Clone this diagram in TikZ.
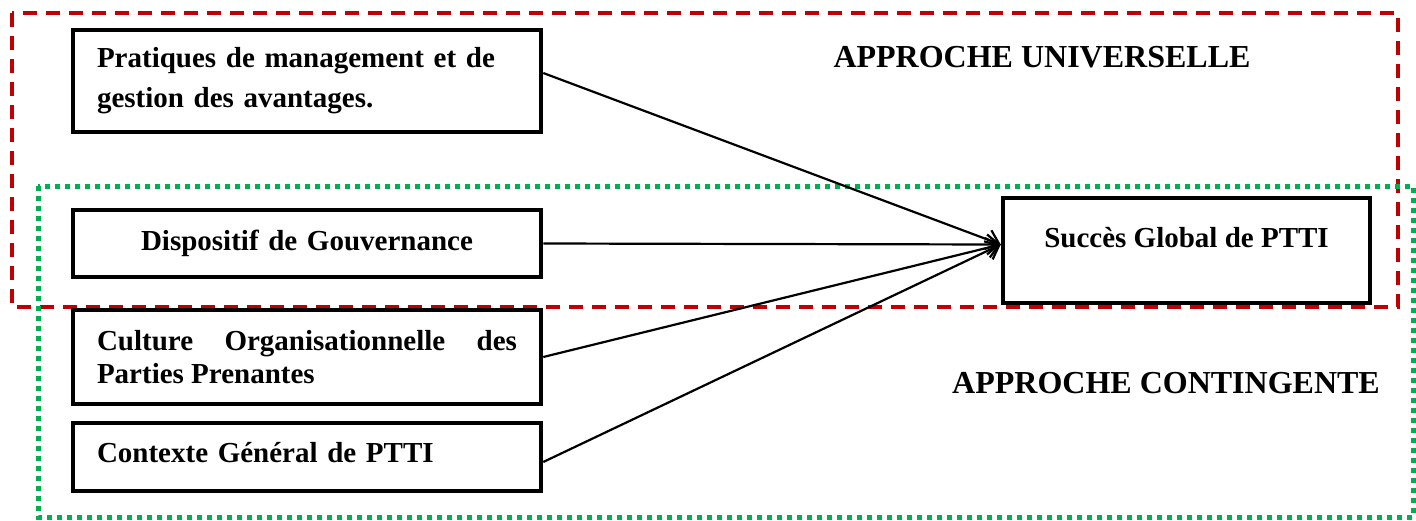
\documentclass[tikz,border=0pt]{standalone}
\usepackage{fontspec}
\setmainfont{Liberation Serif}
\usetikzlibrary{arrows.meta}
\definecolor{redline}{HTML}{C00000}
\definecolor{greenline}{HTML}{00B050}
\begin{document}
\begin{tikzpicture}[x=1pt,y=-1pt,
  box/.style={draw, line width=4.5pt, minimum width=468pt, inner sep=0pt, text width=420pt,
    font=\bfseries\fontsize{29}{33}\selectfont},
  conn/.style={line width=2.2pt, -{Straight Barb[length=12pt,width=20pt]}},
  approche/.style={font=\bfseries\fontsize{32}{36}\selectfont},
  universal/.style={draw=redline, line width=3.5pt, dash pattern=on 14pt off 9pt},
  contingent/.style={draw=greenline, line width=5pt, dash pattern=on 5pt off 5pt}
]
\useasboundingbox (0,0) rectangle (1416,520);
\draw[universal] (12,13) rectangle (1398,307);
\draw[contingent] (38,186) rectangle (1413,517);

\node[box, minimum height=102pt, align=left, font=\bfseries\fontsize{29}{40}\selectfont] (b1) at (307,81)
  {Pratiques de management et de\\gestion des avantages.};
\node[box, minimum height=67pt, align=center, text height=20pt, text depth=6pt] (b2) at (307,243.5)
  {Dispositif de Gouvernance};
\node[box, minimum height=94pt, align=justify] (b3) at (307,357)
  {\tolerance=10000 Culture Organisationnelle des\linebreak Parties Prenantes};
\node[box, minimum height=68pt, align=left, text height=20pt, text depth=10pt] (b4) at (307,457)
  {Contexte Général de PTTI};
\node[draw, line width=4.5pt, minimum width=367pt, minimum height=105pt, inner sep=0pt,
  text height=20pt, text depth=26pt, font=\bfseries\fontsize{29}{33}\selectfont] (t) at (1186.5,250.5)
  {Succès Global de PTTI};

\node[approche] (u) at (1042,57) {APPROCHE UNIVERSELLE};
\node[approche] (c) at (1166,383) {APPROCHE CONTINGENTE};

\coordinate (tip) at ([yshift=6pt]t.west);
\draw[conn] ([yshift=8pt]b1.east) -- (tip);
\draw[conn] (b2.east) -- (tip);
\draw[conn] (b3.east) -- (tip);
\draw[conn] ([yshift=-5pt]b4.east) -- (tip);
\end{tikzpicture}
\end{document}
